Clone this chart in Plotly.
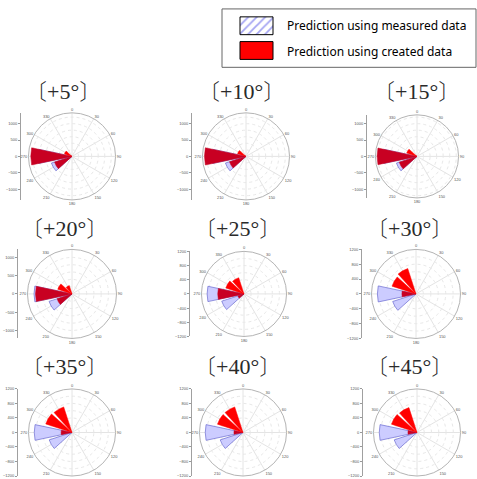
import plotly.graph_objects as go

W, H = 477, 479

# ---------------- data ----------------
shift_labels = ["〔+5°〕", "〔+10°〕", "〔+15°〕",
                "〔+20°〕", "〔+25°〕", "〔+30°〕",
                "〔+35°〕", "〔+40°〕", "〔+45°〕"]
directions = [240, 270, 300, 330]          # wind-direction bins (deg)
measured = [                                # prediction using measured data
    [660, 1040, 0, 0],
    [660, 1040, 0, 0],
    [660, 1040, 0, 0],
    [660, 1040, 0, 0],
    [660, 1040, 0, 0],
    [660, 1040, 0, 0],
    [660, 1040, 0, 0],
    [660, 1040, 0, 0],
    [660, 1040, 0, 0],
]
created = [                                 # prediction using created data
    [560, 1260, 240, 0],
    [530, 1270, 270, 0],
    [570, 1220, 330, 0],
    [430, 1000, 410, 240],
    [180, 740, 540, 480],
    [0, 380, 680, 720],
    [0, 300, 760, 740],
    [0, 250, 740, 740],
    [0, 250, 740, 720],
]
radial_max = [1330, 1330, 1270, 1220, 1200, 1200, 1200, 1200, 1200]
axis_ticks = [
    [-1000, -500, 0, 500, 1000],
    [-1000, -500, 0, 500, 1000],
    [-1000, -500, 0, 500, 1000],
    [-1000, -500, 0, 500, 1000],
    [-1200, -800, -400, 0, 400, 800, 1200],
    [-1200, -800, -400, 0, 400, 800, 1200],
    [-1200, -800, -400, 0, 400, 800, 1200],
    [-1200, -800, -400, 0, 400, 800, 1200],
    [-1200, -800, -400, 0, 400, 800, 1200],
]
angle_ticks = list(range(0, 360, 30))
legend_labels = ["Prediction using measured data", "Prediction using created data"]

# ---------------- layout geometry (pixels) ----------------
# centre x, centre y, radius, left-axis x, title x, title y
geom = [
    (72, 155, 44, 21, 63, 87),
    (246, 155, 44, 192, 242, 87),
    (417, 155, 42, 367, 416, 87),
    (72, 294, 45, 18, 64, 225),
    (244, 294, 43, 190, 237, 225),
    (416, 294, 45, 362, 409, 225),
    (72, 434, 44, 18, 64, 365),
    (243, 434, 44, 192, 237, 365),
    (417, 434, 44, 363, 409, 365),
]

BLUE_FILL = "#ccccff"
BLUE_LINE = "#6a6ad0"
RED = "#ff0000"
DARK_RED = "#c80022"
CJK = "font-family:'Noto Sans CJK KR';font-weight:300"


def fx(x):
    return x / W


def fy(y):
    return 1 - y / H


def styled_title(label):
    return (label.replace("〔", f'<span style="{CJK}">〔</span>')
                 .replace("〕", f'<span style="{CJK}">〕</span>'))


fig = go.Figure()
layout = dict(
    width=W, height=H, margin=dict(l=0, r=0, t=0, b=0),
    paper_bgcolor="white", plot_bgcolor="white",
    showlegend=False, autosize=False,
)
annotations = []
shapes = []

for i in range(9):
    cx, cy, R, ax_x, tx, ty = geom[i]
    k = "" if i == 0 else str(i + 1)
    pname = "polar" + k
    rmax = radial_max[i]
    dom_x = [fx(cx - R), fx(cx + R)]
    dom_y = [max(0, fy(cy + R)), min(1, fy(cy - R))]

    # measured (blue) bars
    fig.add_trace(go.Barpolar(
        r=measured[i], theta=directions, width=[24] * len(directions),
        marker=dict(color=BLUE_FILL, line=dict(color=BLUE_LINE, width=0.7)),
        subplot=pname, name=legend_labels[0], showlegend=False,
    ))
    # created (red) bars: darker where they overlap the measured bars
    red_colors = [DARK_RED if m > 0 else RED for m in measured[i]]
    fig.add_trace(go.Barpolar(
        r=created[i], theta=directions, width=[24] * len(directions),
        marker=dict(color=red_colors, line=dict(color=red_colors, width=0.5)),
        subplot=pname, name=legend_labels[1], showlegend=False,
    ))

    # bottom row is cut by the image edge: its "180" label is not visible
    tick_text = [str(a) for a in angle_ticks]
    if i >= 6:
        tick_text = ["" if a == 180 else str(a) for a in angle_ticks]

    layout[pname] = dict(
        domain=dict(x=dom_x, y=dom_y),
        bgcolor="white",
        barmode="overlay",
        angularaxis=dict(
            rotation=90, direction="clockwise",
            tickmode="array", tickvals=angle_ticks, ticktext=tick_text,
            tickfont=dict(size=4, color="#555555", family="Arial, Liberation Sans"),
            ticks="", showline=True, linecolor="#b4b4b4", linewidth=1,
            gridcolor="#e4e4e4", gridwidth=0.6,
        ),
        radialaxis=dict(
            range=[0, rmax], showticklabels=False, ticks="",
            showline=False, dtick=200, gridcolor="#e8e8e8",
            gridwidth=0.6, griddash="dot",
        ),
    )

    # left linear axis
    xa = "xaxis" + str(i + 1 if i > 0 else "")
    ya = "yaxis" + str(i + 1 if i > 0 else "")
    xref = "x" + (str(i + 1) if i > 0 else "")
    yref = "y" + (str(i + 1) if i > 0 else "")
    fig.add_trace(go.Scatter(
        x=[0], y=[0], mode="markers", marker=dict(opacity=0),
        xaxis=xref, yaxis=yref, hoverinfo="skip", showlegend=False,
    ))
    layout[xa] = dict(domain=[fx(ax_x), fx(ax_x) + 0.004], range=[0, 1],
                      visible=False, anchor=yref)
    layout[ya] = dict(
        domain=dom_y, range=[-rmax, rmax], anchor=xref,
        tickmode="array", tickvals=axis_ticks[i],
        ticks="outside", ticklen=2, tickwidth=0.6, tickcolor="#999999",
        showline=True, linecolor="#a0a0a0", linewidth=1,
        showgrid=False, zeroline=False,
        tickfont=dict(size=4, color="#555555", family="Arial, Liberation Sans"),
    )

    annotations.append(dict(
        x=fx(tx), y=fy(ty), xref="paper", yref="paper",
        text=styled_title(shift_labels[i]), showarrow=False,
        xanchor="center", yanchor="middle",
        font=dict(size=22, color="#2a2a2a", family="Liberation Serif"),
    ))

# ---------------- legend (drawn manually to mimic the original) -------------
shapes.append(dict(type="rect", xref="paper", yref="paper", layer="below",
                   x0=fx(222), x1=fx(476), y0=fy(65), y1=fy(6),
                   line=dict(color="#666666", width=1), fillcolor="white"))
# hatched swatch: a single patterned bar in its own hidden axes
fig.add_trace(go.Bar(
    x=[0], y=[1], width=[1], xaxis="x10", yaxis="y10",
    marker=dict(color="white", line=dict(width=0),
                pattern=dict(shape="/", fgcolor="#4a4ae6", bgcolor="white",
                             size=6, solidity=0.3)),
    hoverinfo="skip", showlegend=False,
))
layout["xaxis10"] = dict(domain=[fx(240), fx(273)], range=[-0.5, 0.5],
                         visible=False, anchor="y10")
layout["yaxis10"] = dict(domain=[fy(32), fy(14)], range=[0, 1],
                         visible=False, anchor="x10")
shapes.append(dict(type="rect", xref="paper", yref="paper",
                   x0=fx(240), x1=fx(273), y0=fy(32), y1=fy(14),
                   line=dict(color="black", width=1)))
shapes.append(dict(type="rect", xref="paper", yref="paper",
                   x0=fx(240), x1=fx(273), y0=fy(57), y1=fy(39),
                   line=dict(color="black", width=1), fillcolor=RED))
for lbl, ly in zip(legend_labels, [23, 49]):
    annotations.append(dict(
        x=fx(285), y=fy(ly), xref="paper", yref="paper", text=lbl,
        showarrow=False, xanchor="left", yanchor="middle",
        font=dict(size=12, color="black", family="Noto Sans, Open Sans"),
    ))

layout["annotations"] = annotations
layout["shapes"] = shapes
fig.update_layout(**layout)

fig.write_html("out.html", config={"displayModeBar": False},
               post_script="document.body.style.margin='0';"
                           "document.body.style.overflow='hidden';")
